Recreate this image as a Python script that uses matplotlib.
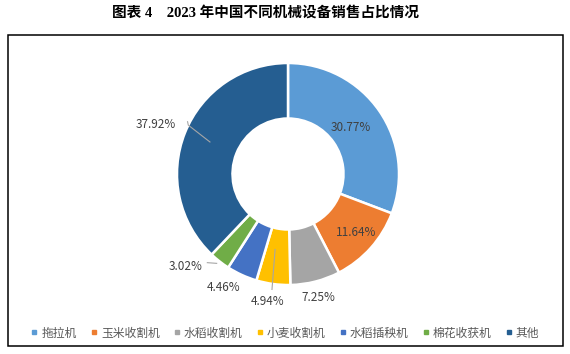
import numpy as np
import matplotlib
matplotlib.use("Agg")
import matplotlib.pyplot as plt
from matplotlib.patches import Rectangle

plt.rcParams['font.family'] = ['Noto Sans CJK SC', 'DejaVu Sans']

# data
categories = ['拖拉机', '玉米收割机', '水稻收割机', '小麦收割机', '水稻插秧机', '棉花收获机', '其他']
shares = [30.77, 11.64, 7.25, 4.94, 4.46, 3.02, 37.92]
colors = ['#5B9BD5', '#ED7D31', '#A5A5A5', '#FFC000', '#4472C4', '#70AD47', '#255E91']

W, H = 570, 354
fig = plt.figure(figsize=(W / 100, H / 100), dpi=100)

# outer frame
fig.patches.append(Rectangle((7.5 / W, 1 - 346 / H), (563 - 7.5) / W, (346 - 35) / H,
                             transform=fig.transFigure, fill=False,
                             edgecolor='black', linewidth=1.1))

fig.text(266 / W, 1 - 13 / H, '图表 4    2023 年中国不同机械设备销售占比情况',
         ha='center', va='center', fontsize=10.5, fontweight='bold',
         family=['Liberation Serif', 'Noto Sans CJK SC'], color='black')

# pie axes: radius 1 -> 111 px, centred at (288, 174)
R = 111
k = 1.5
cx, cy = 288 / W, 1 - 174 / H
aw, ah = 2 * R * k / W, 2 * R * k / H
ax = fig.add_axes([cx - aw / 2, cy - ah / 2, aw, ah])

wedges, _ = ax.pie(shares, colors=colors, startangle=90, counterclock=False,
                   radius=1.0, wedgeprops=dict(width=0.5, edgecolor='white', linewidth=1.8))
ax.set_xlim(-k, k)
ax.set_ylim(-k, k)
ax.set_aspect('equal')
ax.axis('off')

# label placement: (text radius, angle shift deg)
label_style = [
    (0.70, 2.0),
    (0.81, 1.0),
    (1.15, -0.5),
    (1.16, -1.5),
    (1.18, -5.0),
    (1.24, -10.0),
    (1.27, 1.0),
]
# leader lines as (radius, angle deg) pairs, None where there is none
leaders = [
    None,
    None,
    None,
    [(0.69, -99.7), (1.05, -97.9)],
    None,
    [(1.03, -128.6), (1.08, -132.3)],
    [(0.76, 157.7), (1.00, 153.9), (1.02, 152.5)],
]

total = sum(shares)
start = 90.0
for val, (rt, shift), lead in zip(shares, label_style, leaders):
    sweep = 360 * val / total
    mid = start - sweep / 2
    start -= sweep
    ang = np.deg2rad(mid + shift)
    ax.text(rt * np.cos(ang), rt * np.sin(ang), f'{val:.2f}%', ha='center', va='center',
            fontsize=8.5, color='#404040')
    if lead is not None:
        r = np.array([p[0] for p in lead])
        a = np.deg2rad([p[1] for p in lead])
        ax.plot(r * np.cos(a), r * np.sin(a), color='#A6A6A6', linewidth=0.8)

handles = [plt.Line2D([], [], marker='s', linestyle='none', markersize=3.5,
                      markerfacecolor=c, markeredgecolor=c) for c in colors]
fig.legend(handles, categories, loc='center', bbox_to_anchor=(0.5, 1 - 333 / H),
           ncol=len(categories), frameon=False, fontsize=8.5, handlelength=0.6,
           handletextpad=0.3, columnspacing=1.15, labelcolor='#595959')

fig.savefig('out.png', dpi=100)
